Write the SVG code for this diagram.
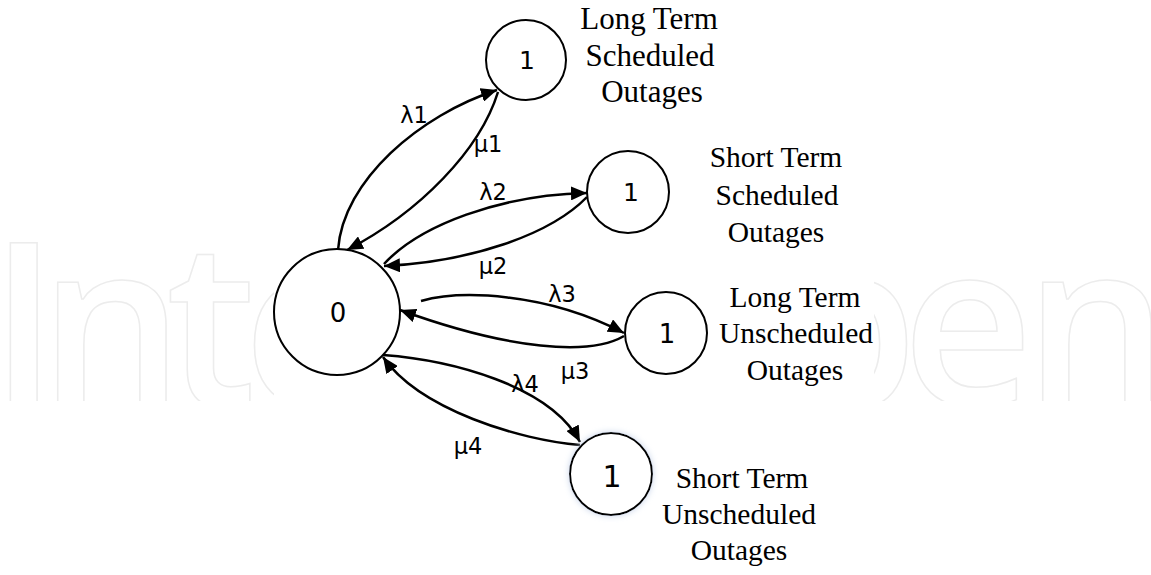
<svg xmlns="http://www.w3.org/2000/svg" width="1151" height="575" viewBox="0 0 1151 575">
<style>
.wm{font-family:"Open Sans","DejaVu Sans",sans-serif;font-weight:600;font-size:228px;fill:none;stroke:#ececec;stroke-width:1.5}
.st{fill:#fff;stroke:#000;stroke-width:2}
.num{font-family:"DejaVu Sans","Liberation Sans",sans-serif;text-anchor:middle;fill:#000}
.lbl{font-family:"Liberation Serif","Times New Roman",serif;font-size:29.5px;text-anchor:middle;fill:#000}
.big{font-size:31px}
.rate{font-family:"DejaVu Sans","Liberation Sans",sans-serif;font-size:22.5px;text-anchor:middle;fill:#000}
.edge{fill:none;stroke:#000;stroke-width:2.5}
</style>
<defs>
<marker id="ah" markerUnits="userSpaceOnUse" markerWidth="17" markerHeight="14" refX="16" refY="7" orient="auto">
<path d="M0,0 L16,7 L0,14 z" fill="#000"/>
</marker>
<clipPath id="wmclip">
<rect x="0" y="240" width="274" height="161"/>
<rect x="874" y="240" width="277" height="161"/>
</clipPath>
<filter id="glow" x="-30%" y="-30%" width="160%" height="160%">
<feGaussianBlur in="SourceAlpha" stdDeviation="3" result="b"/>
<feFlood flood-color="#c8d4ea" result="c"/>
<feComposite in="c" in2="b" operator="in" result="s"/>
<feMerge><feMergeNode in="s"/><feMergeNode in="SourceGraphic"/></feMerge>
</filter>
</defs>
<rect width="1151" height="575" fill="#fff"/>
<g id="watermark" clip-path="url(#wmclip)">
<text class="wm" x="-11" y="406">I</text>
<text class="wm" x="39" y="406">n</text>
<text class="wm" x="166" y="406">t</text>
<text class="wm" x="243" y="406">e</text>
<text class="wm" x="776" y="406">p</text>
<text class="wm" x="902" y="406">e</text>
<text class="wm" x="1024" y="406">n</text>
</g>
<g id="connectors">
<path class="edge" marker-end="url(#ah)" d="M338 250 C343 180,420 115,497 90"/>
<path class="edge" marker-end="url(#ah)" d="M498 92 C480 150,420 212,347 250"/>
<path class="edge" marker-end="url(#ah)" d="M384 264 C420 225,500 195,587 193"/>
<path class="edge" marker-end="url(#ah)" d="M587 197 C550 235,470 262,384 266"/>
<path class="edge" marker-end="url(#ah)" d="M421 301 C460 290,545 292,624 333"/>
<path class="edge" marker-end="url(#ah)" d="M624 336 C590 356,510 350,400 310"/>
<path class="edge" marker-end="url(#ah)" d="M383 355 C450 360,550 385,580 442"/>
<path class="edge" marker-end="url(#ah)" d="M580 445 C520 440,420 410,383 357"/>
<text class="rate" x="414" y="123">λ1</text>
<text class="rate" x="488" y="152">μ1</text>
<text class="rate" x="493" y="200">λ2</text>
<text class="rate" x="493" y="274">μ2</text>
<text class="rate" x="562" y="302">λ3</text>
<text class="rate" x="575" y="379">μ3</text>
<text class="rate" x="525" y="392">λ4</text>
<text class="rate" x="468" y="454">μ4</text>
</g>
<g id="node0">
<circle class="st" cx="337" cy="312" r="63"/>
<text class="num" x="338" y="322" font-size="26">0</text>
</g>
<g id="node1">
<circle class="st" cx="526" cy="60" r="40"/>
<text class="num" x="527" y="69" font-size="25">1</text>
<text class="lbl big" x="649" y="29">Long Term</text>
<text class="lbl big" x="650" y="66">Scheduled</text>
<text class="lbl big" x="652" y="102">Outages</text>
</g>
<g id="node2">
<circle class="st" cx="628" cy="192" r="41"/>
<text class="num" x="631" y="201" font-size="25">1</text>
<text class="lbl" x="776" y="167">Short Term</text>
<text class="lbl" x="777" y="205">Scheduled</text>
<text class="lbl" x="776" y="242">Outages</text>
</g>
<g id="node3">
<circle class="st" cx="666" cy="333" r="41"/>
<text class="num" x="667" y="343" font-size="26">1</text>
<text class="lbl" x="795" y="307">Long Term</text>
<text class="lbl" x="796" y="343">Unscheduled</text>
<text class="lbl" x="795" y="380">Outages</text>
</g>
<g id="node4">
<circle class="st" cx="611" cy="474" r="41" filter="url(#glow)"/>
<text class="num" x="612" y="487" font-size="30">1</text>
<text class="lbl" x="742" y="488">Short Term</text>
<text class="lbl" x="739" y="524">Unscheduled</text>
<text class="lbl" x="739" y="560">Outages</text>
</g>
</svg>
